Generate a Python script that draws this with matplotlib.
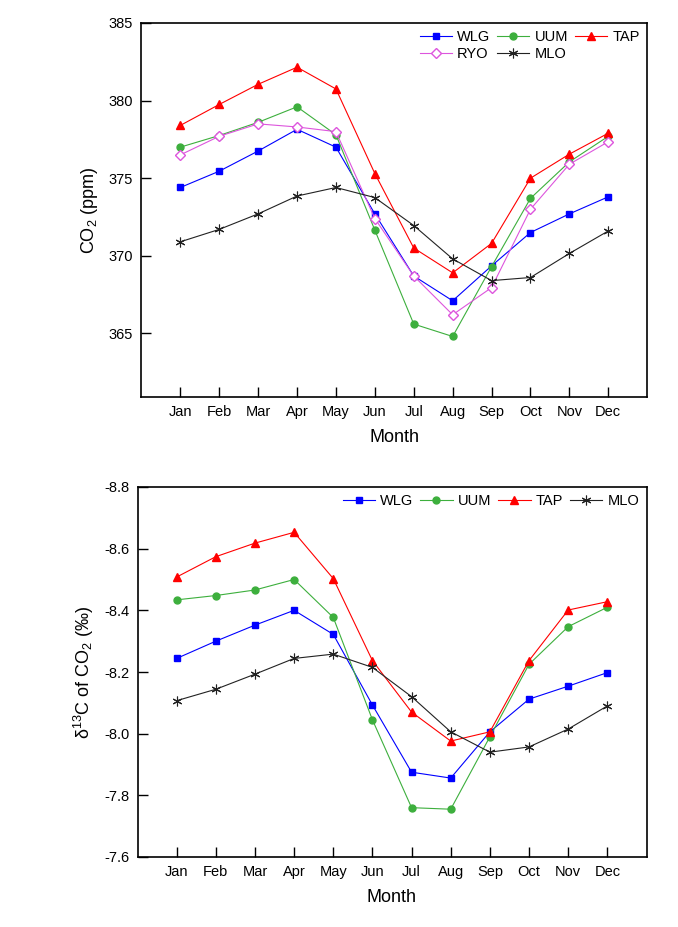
import matplotlib
matplotlib.use("Agg")
import matplotlib.pyplot as plt

plt.rcParams['font.family'] = ['Liberation Sans', 'DejaVu Sans']
plt.rcParams['mathtext.fontset'] = 'custom'
plt.rcParams['mathtext.rm'] = 'Liberation Sans'
plt.rcParams['mathtext.it'] = 'Liberation Sans'

months = ["Jan", "Feb", "Mar", "Apr", "May", "Jun", "Jul", "Aug", "Sep", "Oct", "Nov", "Dec"]

# CO2 (ppm)
co2_wlg = [374.4, 375.45, 376.75, 378.15, 377.0, 372.7, 368.7, 367.1, 369.35, 371.5, 372.7, 373.8]
co2_uum = [377.0, 377.75, 378.6, 379.6, 377.8, 371.65, 365.6, 364.8, 369.3, 373.7, 376.05, 377.7]
co2_tap = [378.4, 379.75, 381.05, 382.15, 380.75, 375.3, 370.5, 368.9, 370.8, 375.0, 376.55, 377.9]
co2_ryo = [376.5, 377.7, 378.5, 378.3, 378.0, 372.4, 368.7, 366.2, 367.95, 373.0, 375.9, 377.35]
co2_mlo = [370.9, 371.7, 372.7, 373.85, 374.4, 373.75, 371.95, 369.8, 368.4, 368.6, 370.15, 371.6]

# delta13C of CO2 (permil)
d13_wlg = [-8.244, -8.300, -8.352, -8.400, -8.322, -8.093, -7.875, -7.856, -8.006, -8.112, -8.154, -8.198]
d13_uum = [-8.434, -8.448, -8.466, -8.500, -8.377, -8.045, -7.760, -7.755, -7.990, -8.225, -8.347, -8.410]
d13_tap = [-8.508, -8.574, -8.618, -8.653, -8.503, -8.237, -8.070, -7.976, -8.006, -8.237, -8.401, -8.428]
d13_mlo = [-8.107, -8.144, -8.193, -8.244, -8.258, -8.215, -8.120, -8.006, -7.940, -7.957, -8.015, -8.090]

co2_ticks = [365, 370, 375, 380, 385]
d13_ticks = [-8.8, -8.6, -8.4, -8.2, -8.0, -7.8, -7.6]

x = list(range(1, 13))

styles = {
    "WLG": dict(color="#0000FF", marker="s", mfc="#0000FF", mec="#0000FF", ms=5),
    "UUM": dict(color="#3DAF3D", marker="o", mfc="#3DAF3D", mec="#3DAF3D", ms=5),
    "TAP": dict(color="#FF0000", marker="^", mfc="#FF0000", mec="#FF0000", ms=6),
    "RYO": dict(color="#DD55DD", marker="D", mfc="white", mec="#DD55DD", ms=5, mew=1.0),
    "MLO": dict(color="#222222", marker=(6, 2, 0), mfc="#222222", mec="#222222", ms=7, mew=0.8),
}

fig = plt.figure(figsize=(6.78, 9.27), dpi=100)
ax1 = fig.add_axes([141.4 / 678, 1 - 397 / 927, (647.2 - 141.4) / 678, (397 - 23) / 927])
ax2 = fig.add_axes([137.5 / 678, 1 - 857 / 927, (646.5 - 137.5) / 678, (857 - 487) / 927])

def style_axes(ax):
    for sp in ax.spines.values():
        sp.set_linewidth(1.2)
    ax.tick_params(direction="in", length=7, width=1.0, labelsize=10.5, top=False, right=False, pad=6)
    ax.set_xlim(0, 13)
    ax.set_xticks(x)
    ax.set_xticklabels(months)
    ax.set_xlabel("Month", fontsize=13, labelpad=7)

top_series = [("WLG", co2_wlg), ("UUM", co2_uum), ("TAP", co2_tap), ("RYO", co2_ryo), ("MLO", co2_mlo)]
h = {}
for name, vals in top_series:
    h[name], = ax1.plot(x, vals, lw=0.8, label=name, **styles[name])
style_axes(ax1)
ax1.set_ylim(360.9, 385)
ax1.set_yticks(co2_ticks)
ax1.set_ylabel("CO$_2$ (ppm)", fontsize=13, labelpad=6)
order = ["WLG", "RYO", "UUM", "MLO", "TAP"]
ax1.legend([h[n] for n in order], order, ncol=3, loc="upper right", frameon=False,
           fontsize=10.5, handlelength=2.2, handletextpad=0.35, columnspacing=0.5,
           labelspacing=0.2, borderaxespad=0.3, borderpad=0.2)

bot_series = [("WLG", d13_wlg), ("UUM", d13_uum), ("TAP", d13_tap), ("MLO", d13_mlo)]
for name, vals in bot_series:
    ax2.plot(x, vals, lw=0.8, label=name, **styles[name])
style_axes(ax2)
ax2.set_ylim(-7.6, -8.8)
ax2.set_yticks(d13_ticks)
ax2.set_yticklabels([f"{t:.1f}" for t in d13_ticks])
ax2.set_ylabel("δ$^{13}$C of CO$_2$ (‰)", fontsize=13, labelpad=6)
ax2.legend(ncol=4, loc="upper right", frameon=False, fontsize=10.5, handlelength=2.2,
           handletextpad=0.35, columnspacing=0.5, borderaxespad=0.3, borderpad=0.2)

fig.savefig("out.png", dpi=100)
